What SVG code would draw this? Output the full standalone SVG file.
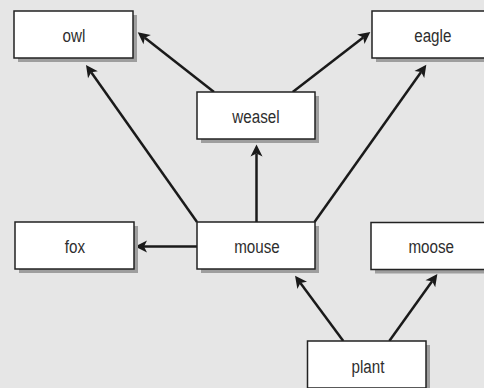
<svg xmlns="http://www.w3.org/2000/svg" width="484" height="388" viewBox="0 0 484 388">
  <defs>
    <style>
      .shadow { fill: #9e9e9e; }
      .box { fill: #ffffff; stroke: #222222; stroke-width: 1.5; }
      .label { font-family: "Liberation Sans", Arial, sans-serif; font-size: 19px; fill: #2e2e2e; text-anchor: middle; }
      .edge { stroke: #1a1a1a; stroke-width: 2.5; fill: none; marker-end: url(#head); }
    </style>
    <marker id="head" markerUnits="userSpaceOnUse" markerWidth="15" markerHeight="14" viewBox="-2 -7 15 14" refX="2" refY="0" orient="auto">
      <path d="M11,0 L-1,-6 L2,0 L-1,6 Z" fill="#1a1a1a"/>
    </marker>
  </defs>

  <rect width="484" height="388" fill="#e6e6e6"/>

  <!-- food-web arrows -->
  <g id="connectors">
    <line class="edge" x1="214" y1="92" x2="144.8" y2="37.8"/>
    <line class="edge" x1="197" y1="222" x2="91.2" y2="72.3"/>
    <line class="edge" x1="292.7" y1="92" x2="363.2" y2="37.5"/>
    <line class="edge" x1="314.5" y1="222" x2="421.1" y2="72.0"/>
    <line class="edge" x1="256.5" y1="222" x2="256.5" y2="153.5"/>
    <line class="edge" x1="197" y1="246.5" x2="144" y2="246.5"/>
    <line class="edge" x1="343.3" y1="341" x2="300.4" y2="283.0"/>
    <line class="edge" x1="389.3" y1="341" x2="432.1" y2="281.3"/>
  </g>

  <g id="owl">
    <rect class="shadow" x="18" y="15" width="119" height="47"/>
    <rect class="box" x="14" y="11" width="119" height="47"/>
    <text class="label" transform="translate(74,41.7) scale(0.8,1)">owl</text>
  </g>

  <g id="eagle">
    <rect class="shadow" x="376" y="15" width="119" height="47"/>
    <rect class="box" x="372" y="11" width="119" height="47"/>
    <text class="label" transform="translate(432.8,41.7) scale(0.8,1)">eagle</text>
  </g>

  <g id="weasel">
    <rect class="shadow" x="201" y="96" width="118" height="47"/>
    <rect class="box" x="197" y="92" width="118" height="47"/>
    <text class="label" transform="translate(256,122.7) scale(0.8,1)">weasel</text>
  </g>

  <g id="fox">
    <rect class="shadow" x="19" y="226" width="119" height="47"/>
    <rect class="box" x="15" y="222" width="119" height="47"/>
    <text class="label" transform="translate(75,252.7) scale(0.8,1)">fox</text>
  </g>

  <g id="mouse">
    <rect class="shadow" x="201" y="226" width="118" height="47"/>
    <rect class="box" x="197" y="222" width="118" height="47"/>
    <text class="label" transform="translate(257,252.7) scale(0.8,1)">mouse</text>
  </g>

  <g id="moose">
    <rect class="shadow" x="375" y="226.5" width="119" height="47"/>
    <rect class="box" x="371" y="222.5" width="119" height="47"/>
    <text class="label" transform="translate(431.2,253.2) scale(0.8,1)">moose</text>
  </g>

  <g id="plant">
    <rect class="shadow" x="311.5" y="345" width="118.5" height="47"/>
    <rect class="box" x="307.5" y="341" width="118.5" height="47"/>
    <text class="label" transform="translate(368,373.3) scale(0.8,1)">plant</text>
  </g>
</svg>
